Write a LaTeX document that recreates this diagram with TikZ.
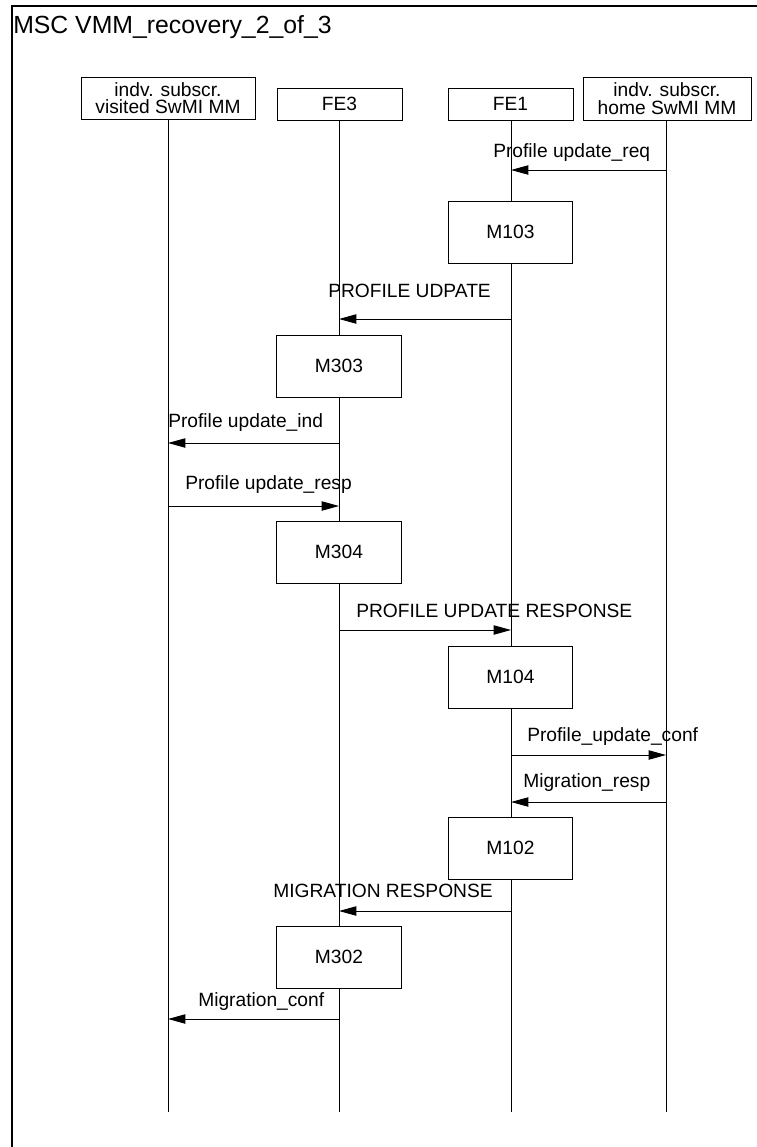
\documentclass[tikz,border=0pt]{standalone}
\usepackage{fontspec}
\setmainfont{Liberation Sans}
\usetikzlibrary{arrows.meta}
\begin{document}
\begin{tikzpicture}[x=0.75pt,y=-0.75pt,
  txt/.style={font=\fontsize{14.4pt}{13pt}\selectfont},
  head/.style={draw,fill=white,line width=0.75pt,inner sep=0pt,align=center,txt},
  act/.style={draw,fill=white,line width=0.75pt,minimum width=93.5pt,minimum height=46.5pt,inner sep=0pt,txt},
  life/.style={line width=0.75pt},
  msg/.style={line width=0.75pt,-{Triangle[length=13pt,width=7pt]}},
  lbl/.style={anchor=base west,inner sep=0pt,txt},
  frameline/.style={line width=1.6pt}]
\useasboundingbox (0,0) rectangle (757,1147);
% frame
\coordinate (fTL) at (12,6);
\coordinate (fTR) at (757,6);
\coordinate (fBL) at (12,1147);
\draw[frameline] (fBL) -- (fTL) -- (fTR);
\node[anchor=base west,inner sep=0pt,font=\fontsize{18.6pt}{20pt}\selectfont] (title) at (13,33) {MSC VMM\_recovery\_2\_of\_3};
% heads
\node[head,minimum width=130.5pt,minimum height=31.5pt] (A) at (168,98) {indv. subscr.\\visited SwMI MM};
\node[head,minimum width=93.75pt,minimum height=24pt] (B) at (339.5,104) {FE3};
\node[head,minimum width=93.75pt,minimum height=24pt] (C) at (510.5,104) {FE1};
\node[head,minimum width=126pt,minimum height=32.25pt] (D) at (667,98.5) {indv. subscr.\\home SwMI MM};
% lifeline ends
\coordinate (Aend) at (168,1112);
\coordinate (Bend) at (339,1112);
\coordinate (Cend) at (511,1112);
\coordinate (Dend) at (666,1112);
\draw[life] (168,119) -- (Aend);
\draw[life] (339,120) -- (Bend);
\draw[life] (511,120) -- (Cend);
\draw[life] (666,120) -- (Dend);
% action boxes
\node[act] (M103) at (510.5,232) {M103};
\node[act] (M303) at (339,366) {M303};
\node[act] (M304) at (339,552) {M304};
\node[act] (M104) at (510.5,677) {M104};
\node[act] (M102) at (510.5,848) {M102};
\node[act] (M302) at (339,957) {M302};
% message endpoints
\coordinate (m1s) at (666,170);  \coordinate (m1e) at (511,170);
\coordinate (m2s) at (511,319);  \coordinate (m2e) at (339,319);
\coordinate (m3s) at (339,443);  \coordinate (m3e) at (168,443);
\coordinate (m4s) at (168,506);  \coordinate (m4e) at (339,506);
\coordinate (m5s) at (339,630);  \coordinate (m5e) at (511,630);
\coordinate (m6s) at (511,755);  \coordinate (m6e) at (666,755);
\coordinate (m7s) at (666,802);  \coordinate (m7e) at (511,802);
\coordinate (m8s) at (511,911);  \coordinate (m8e) at (339,911);
\coordinate (m9s) at (339,1019); \coordinate (m9e) at (168,1019);
\draw[msg] (m1s) -- (m1e);
\draw[msg] (m2s) -- (m2e);
\draw[msg] (m3s) -- (m3e);
\draw[msg] (m4s) -- (m4e);
\draw[msg] (m5s) -- (m5e);
\draw[msg] (m6s) -- (m6e);
\draw[msg] (m7s) -- (m7e);
\draw[msg] (m8s) -- (m8e);
\draw[msg] (m9s) -- (m9e);
% labels
\node[lbl] (l1) at (493,157) {Profile update\_req};
\node[lbl] (l2) at (328,297) {PROFILE UDPATE};
\node[lbl] (l3) at (168,427) {Profile update\_ind};
\node[lbl] (l4) at (185,489) {Profile update\_resp};
\node[lbl] (l5) at (356,617) {PROFILE UPDATE RESPONSE};
\node[lbl] (l6) at (527,741) {Profile\_update\_conf};
\node[lbl] (l7) at (523,787) {Migration\_resp};
\node[lbl] (l8) at (273,897) {MIGRATION RESPONSE};
\node[lbl] (l9) at (198,1006) {Migration\_conf};
\end{tikzpicture}
\end{document}
